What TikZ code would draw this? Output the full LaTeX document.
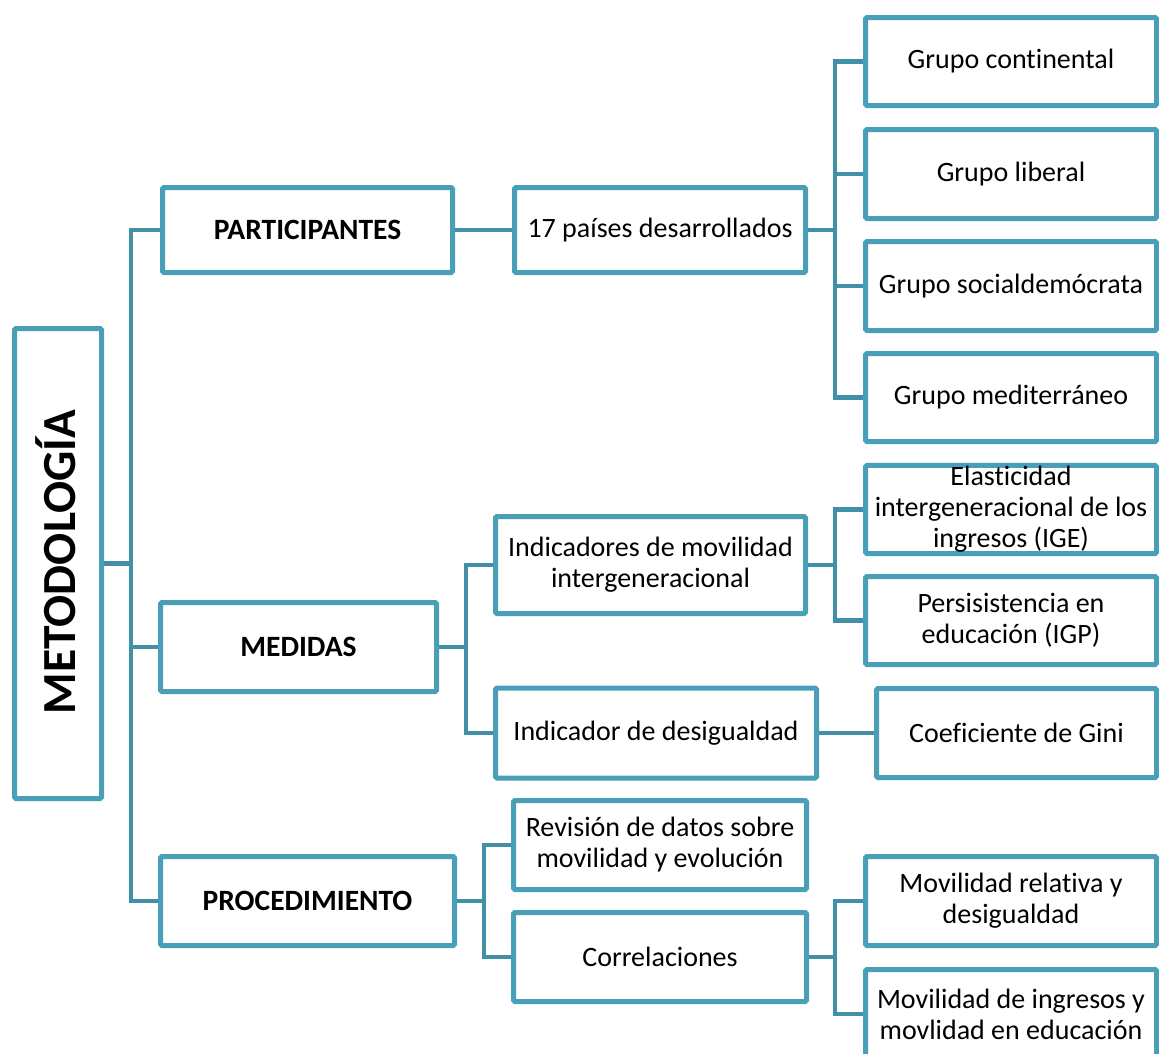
\documentclass[tikz,border=0pt]{standalone}
\usepackage{fontspec}
\setmainfont{Carlito}[Ligatures={NoCommon}]
\definecolor{boxc}{HTML}{4A9FB8}
\definecolor{linec}{HTML}{4290A8}
\begin{document}
\begin{tikzpicture}[x=1pt,y=-1pt,
  bx/.style={draw=boxc, line width=5pt, fill=white, rounded corners=1.5pt,
    inner sep=1pt, align=center, font=\fontsize{28}{31}\selectfont},
  bb/.style={bx, font=\fontsize{29.5}{31}\selectfont\bfseries},
  conn/.style={draw=linec, line width=4.5pt, line join=miter}]
\useasboundingbox (0,0) rectangle (1159,1053);
\clip (0,0) rectangle (1159,1053);
% level 0
\node[bx, minimum width=87pt, minimum height=470pt] (meto) at (58,563.5) {};
\node[rotate=90, font=\fontsize{47.5}{50}\selectfont\bfseries] (metot) at (56,562) {METODOLOGÍA};
% level 1
\node[bb, minimum width=290pt, minimum height=85pt] (part) at (307.5,230) {PARTICIPANTES};
\node[bb, minimum width=276pt, minimum height=89pt] (medidas) at (298.5,647) {MEDIDAS};
\node[bb, minimum width=294pt, minimum height=89pt] (proc) at (307.5,901) {PROCEDIMIENTO};
% level 2
\node[bx, minimum width=291pt, minimum height=85pt] (paises) at (660,230) {17 países desarrollados};
\node[bx, minimum width=310pt, minimum height=97pt] (indmov) at (650.5,565) {Indicadores de movilidad\\intergeneracional};
\node[bx, minimum width=321pt, minimum height=90pt] (inddes) at (656,733) {Indicador de desigualdad};
\node[bx, minimum width=293pt, minimum height=89pt] (revis) at (660,845) {Revisión de datos sobre\\movilidad y evolución};
\node[bx, minimum width=293pt, minimum height=89pt] (correl) at (660,957) {Correlaciones};
% level 3
\node[bx, minimum width=291pt, minimum height=88pt] (g1) at (1011,61.5) {Grupo continental};
\node[bx, minimum width=291pt, minimum height=89pt] (g2) at (1011,174) {Grupo liberal};
\node[bx, minimum width=291pt, minimum height=89pt] (g3) at (1011,286) {Grupo socialdemócrata};
\node[bx, minimum width=291pt, minimum height=88pt] (g4) at (1011,397.5) {Grupo mediterráneo};
\node[bx, minimum width=291pt, minimum height=88pt] (elast) at (1011,509.5) {Elasticidad\\intergeneracional de los\\ingresos (IGE)};
\node[bx, minimum width=291pt, minimum height=88pt] (persis) at (1011,620.5) {Persisistencia en\\educación (IGP)};
\node[bx, minimum width=280pt, minimum height=89pt] (gini) at (1016.5,733) {Coeficiente de Gini};
\node[bx, minimum width=291pt, minimum height=89pt] (movrel) at (1011,901) {Movilidad relativa y\\desigualdad};
\node[bx, minimum width=291pt, minimum height=89pt] (moving) at (1011,1014) {Movilidad de ingresos y\\movlidad en educación};
% branch coordinates
\coordinate (s1) at (131,0);
\coordinate (s2) at (835,0);
\coordinate (s3) at (466,0);
\coordinate (s4) at (484,0);
% connectors
\draw[conn] (part.west) -| (s1 |- proc.west) -- (proc.west);
\draw[conn] (meto.east) -- (meto.east -| s1);
\draw[conn] (medidas.west) -- (medidas.west -| s1);
\draw[conn] (part.east) -- (paises.west);
\draw[conn] (paises.east) -- (paises.east -| s2);
\draw[conn] (g1.west) -| (s2 |- g4.west) -- (g4.west);
\draw[conn] (g2.west) -- (g2.west -| s2);
\draw[conn] (g3.west) -- (g3.west -| s2);
\draw[conn] (medidas.east) -- (medidas.east -| s3);
\draw[conn] (indmov.west) -| (s3 |- inddes.west) -- (inddes.west);
\draw[conn] (indmov.east) -- (indmov.east -| s2);
\draw[conn] (elast.west) -| (s2 |- persis.west) -- (persis.west);
\draw[conn] (inddes.east) -- (gini.west);
\draw[conn] (proc.east) -- (proc.east -| s4);
\draw[conn] (revis.west) -| (s4 |- correl.west) -- (correl.west);
\draw[conn] (correl.east) -- (correl.east -| s2);
\draw[conn] (movrel.west) -| (s2 |- moving.west) -- (moving.west);
\end{tikzpicture}
\end{document}
